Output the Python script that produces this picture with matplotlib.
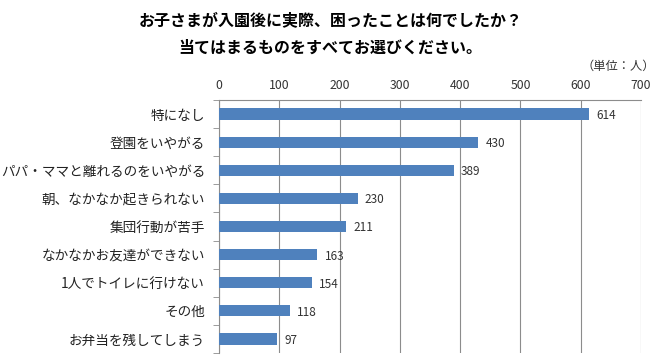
import matplotlib
matplotlib.use("Agg")
import matplotlib.pyplot as plt
from matplotlib.ticker import FixedLocator

plt.rcParams['font.family'] = ['Noto Sans CJK JP', 'DejaVu Sans']

categories = ["特になし", "登園をいやがる", "パパ・ママと離れるのをいやがる", "朝、なかなか起きられない",
              "集団行動が苦手", "なかなかお友達ができない", "1人でトイレに行けない", "その他", "お弁当を残してしまう"]
values = [614, 430, 389, 230, 211, 163, 154, 118, 97]
xticks = [0, 100, 200, 300, 400, 500, 600, 700]

fig = plt.figure(figsize=(6.61, 3.59), dpi=100)
ax = fig.add_axes([219/661, 1-353/359, (641-219)/661, (353-100)/359])

ypos = list(range(len(categories)))
ax.barh(ypos, values, height=0.4, color="#4F81BD", zorder=3)
for y, v in zip(ypos, values):
    ax.text(v + 12, y + 0.05, str(v), va="center", ha="left", fontsize=8.5, color="#333333")

ax.set_xlim(0, 700)
ax.set_ylim(len(categories) - 0.5, -0.5)
ax.xaxis.tick_top()
ax.set_xticks(xticks)
ax.set_xticklabels([str(t) for t in xticks], fontsize=8.8, color="#333333")
ax.tick_params(axis='x', direction='in', length=0, pad=6)
ax.grid(axis='x', color="#8C8C8C", linewidth=0.8, zorder=0)

ax.set_yticks(ypos)
ax.set_yticklabels(categories, fontsize=9.8, color="#222222")
ax.tick_params(axis='y', length=0, pad=10)
ax.yaxis.set_minor_locator(FixedLocator([i - 0.5 for i in range(len(categories) + 1)]))
ax.tick_params(axis='y', which='minor', length=4, color="#8C8C8C", direction='out')
ax.xaxis.set_minor_locator(FixedLocator(xticks))
ax.tick_params(axis='x', which='minor', length=4, color="#8C8C8C", direction='out', top=True, bottom=False)

for s in ['right', 'bottom']:
    ax.spines[s].set_visible(False)
for s in ['top', 'left']:
    ax.spines[s].set_color("#8C8C8C")
    ax.spines[s].set_linewidth(0.8)

fig.text(0.5, 1 - 20/359, "お子さまが入園後に実際、困ったことは何でしたか？", ha="center", va="center",
         fontsize=11.5, fontweight="bold")
fig.text(0.5, 1 - 48/359, "当てはまるものをすべてお選びください。", ha="center", va="center",
         fontsize=11.5, fontweight="bold")
fig.text(655/661, 1 - 66/359, "（単位：人）", ha="right", va="center", fontsize=8.8, color="#333333")

fig.savefig("out.png", dpi=100)
